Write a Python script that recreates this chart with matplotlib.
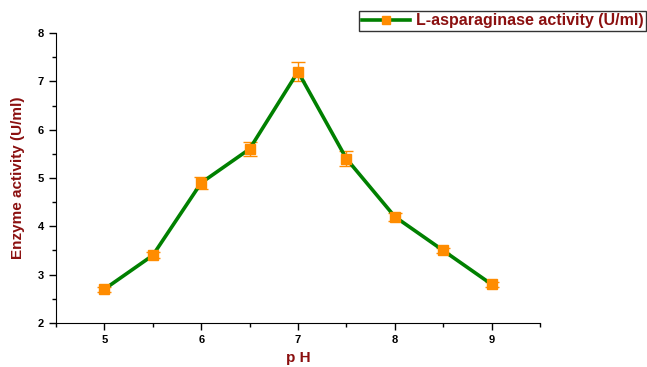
import matplotlib
matplotlib.use("Agg")
import matplotlib.pyplot as plt
from matplotlib.lines import Line2D
from matplotlib.ticker import MultipleLocator

plt.rcParams["font.family"] = ["Liberation Sans", "DejaVu Sans"]

ph = [5, 5.5, 6, 6.5, 7, 7.5, 8, 8.5, 9]
activity = [2.7, 3.4, 4.9, 5.6, 7.2, 5.4, 4.2, 3.5, 2.8]
err = [0.05, 0.06, 0.12, 0.15, 0.2, 0.15, 0.08, 0.06, 0.05]

dark_red = "#8b1010"
green = "#008000"
orange = "#ff8c00"

fig = plt.figure(figsize=(6.47, 3.67), dpi=100)
ax = fig.add_axes([56 / 647, 44 / 367, 484 / 647, 290 / 367])

ax.errorbar(ph, activity, yerr=err, color=green, lw=2.6,
            marker="s", ms=7.5, mfc=orange, mec=orange,
            ecolor=orange, elinewidth=1, capsize=5, capthick=1)

ax.set_xlim(4.5, 9.5)
ax.set_ylim(2, 8)
ax.xaxis.set_major_locator(MultipleLocator(1))
ax.xaxis.set_minor_locator(MultipleLocator(0.5))
ax.yaxis.set_major_locator(MultipleLocator(1))
ax.yaxis.set_minor_locator(MultipleLocator(0.5))
ax.tick_params(which="major", direction="out", length=5, width=1, labelsize=8)
ax.tick_params(which="minor", direction="out", length=3, width=1)
for lab in ax.get_xticklabels() + ax.get_yticklabels():
    lab.set_fontweight("bold")
for s in ["top", "right"]:
    ax.spines[s].set_visible(False)

ax.set_xlabel("p H", fontsize=11, fontweight="bold", color=dark_red)
ax.set_ylabel("Enzyme activity (U/ml)", fontsize=11, fontweight="bold", color=dark_red)
ax.xaxis.set_label_coords(0.5, -0.095)
ax.yaxis.set_label_coords(-0.064, 0.5)

handle = Line2D([], [], color=green, lw=2.6, marker="s", ms=6,
                mfc=orange, mec=orange)
leg = fig.legend([handle], ["L-asparaginase activity (U/ml)"],
                 loc="upper right", bbox_to_anchor=(646 / 647, 1 - 11 / 367),
                 frameon=True, fancybox=False, edgecolor="black", fontsize=11.5,
                 handlelength=3.0, handletextpad=0.4, borderpad=0.15,
                 borderaxespad=0)
leg.get_frame().set_linewidth(1)
for t in leg.get_texts():
    t.set_fontweight("bold")
    t.set_color(dark_red)

fig.savefig("out.png", dpi=100)
